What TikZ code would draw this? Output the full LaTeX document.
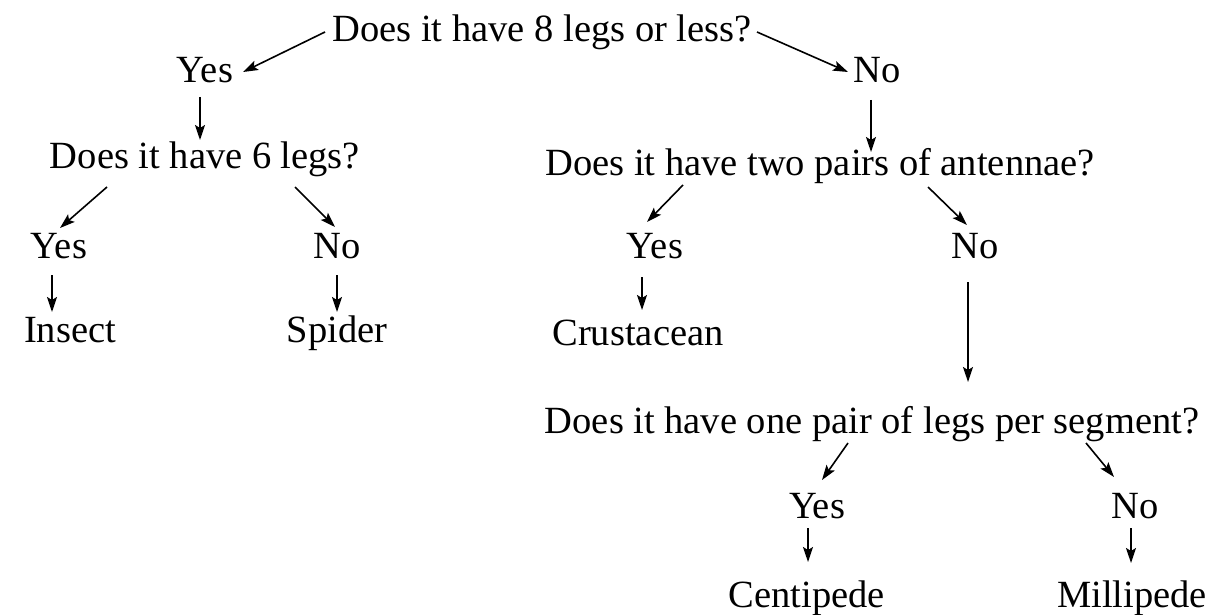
\documentclass[tikz,border=0pt]{standalone}
\usepackage{fontspec}
\setmainfont{Liberation Serif}
\usetikzlibrary{arrows.meta,calc}
\tikzset{
  lbl/.style={anchor=base,inner sep=0pt,outer sep=0pt,font=\fontsize{38.5}{41}\selectfont},
  arr/.style={line width=1.6pt,-{Stealth[length=15pt,width=10pt,inset=3pt]}}
}
\begin{document}
\begin{tikzpicture}[x=1pt,y=-1pt]
\useasboundingbox (0,0) rectangle (1214,615);
% nodes (center x, baseline y)
\node[lbl] (q1) at (542,42) {Does it have 8 legs or less?};
\node[lbl] (y1) at (205,83) {Yes};
\node[lbl] (n1) at (877,83) {No};
\node[lbl] (q2) at (205,168) {Does it have 6 legs?};
\node[lbl] (y2) at (59,258) {Yes};
\node[lbl] (n2) at (337,258) {No};
\node[lbl] (insect) at (70,342) {Insect};
\node[lbl] (spider) at (337,342) {Spider};
\node[lbl] (q3) at (820,175) {Does it have two pairs of antennae?};
\node[lbl] (y3) at (655,258) {Yes};
\node[lbl] (n3) at (975,258) {No};
\node[lbl] (crust) at (638,345) {Crustacean};
\node[lbl] (q4) at (872,433) {Does it have one pair of legs per segment?};
\node[lbl] (y4) at (817,518) {Yes};
\node[lbl] (n4) at (1135,518) {No};
\node[lbl] (centi) at (807,607) {Centipede};
\node[lbl] (milli) at (1132,607) {Millipede};
% connectors
\draw[arr] ($(q1.base)+(-217,-10)$) -- ($(y1.base)+(38,-11)$);
\draw[arr] ($(q1.base)+(215,-10)$) -- ($(n1.base)+(-29,-11)$);
\draw[arr] ($(y1.base)+(-5,14)$) -- ($(q2.base)+(-5,-28)$);
\draw[arr] ($(n1.base)+(-6,17)$) -- ($(q3.base)+(51,-23)$);
\draw[arr] ($(q2.base)+(-98,19)$) -- ($(y2.base)+(1,-30)$);
\draw[arr] ($(q2.base)+(90,19)$) -- ($(n2.base)+(-2,-31)$);
\draw[arr] ($(y2.base)+(-7,17)$) -- ($(insect.base)+(-18,-30)$);
\draw[arr] ($(n2.base)+(0,17)$) -- ($(spider.base)+(0,-30)$);
\draw[arr] ($(q3.base)+(-137,10)$) -- ($(y3.base)+(-8,-36)$);
\draw[arr] ($(q3.base)+(108,12)$) -- ($(n3.base)+(-8,-33)$);
\draw[arr] ($(y3.base)+(-13,19)$) -- ($(crust.base)+(4,-35)$);
\draw[arr] ($(n3.base)+(-7,24)$) -- ($(q4.base)+(96,-51)$);
\draw[arr] ($(q4.base)+(-24,10)$) -- ($(y4.base)+(5,-38)$);
\draw[arr] ($(q4.base)+(214,10)$) -- ($(n4.base)+(-21,-41)$);
\draw[arr] ($(y4.base)+(-9,10)$) -- ($(centi.base)+(1,-45)$);
\draw[arr] ($(n4.base)+(-4,10)$) -- ($(milli.base)+(-1,-44)$);
\end{tikzpicture}
\end{document}
